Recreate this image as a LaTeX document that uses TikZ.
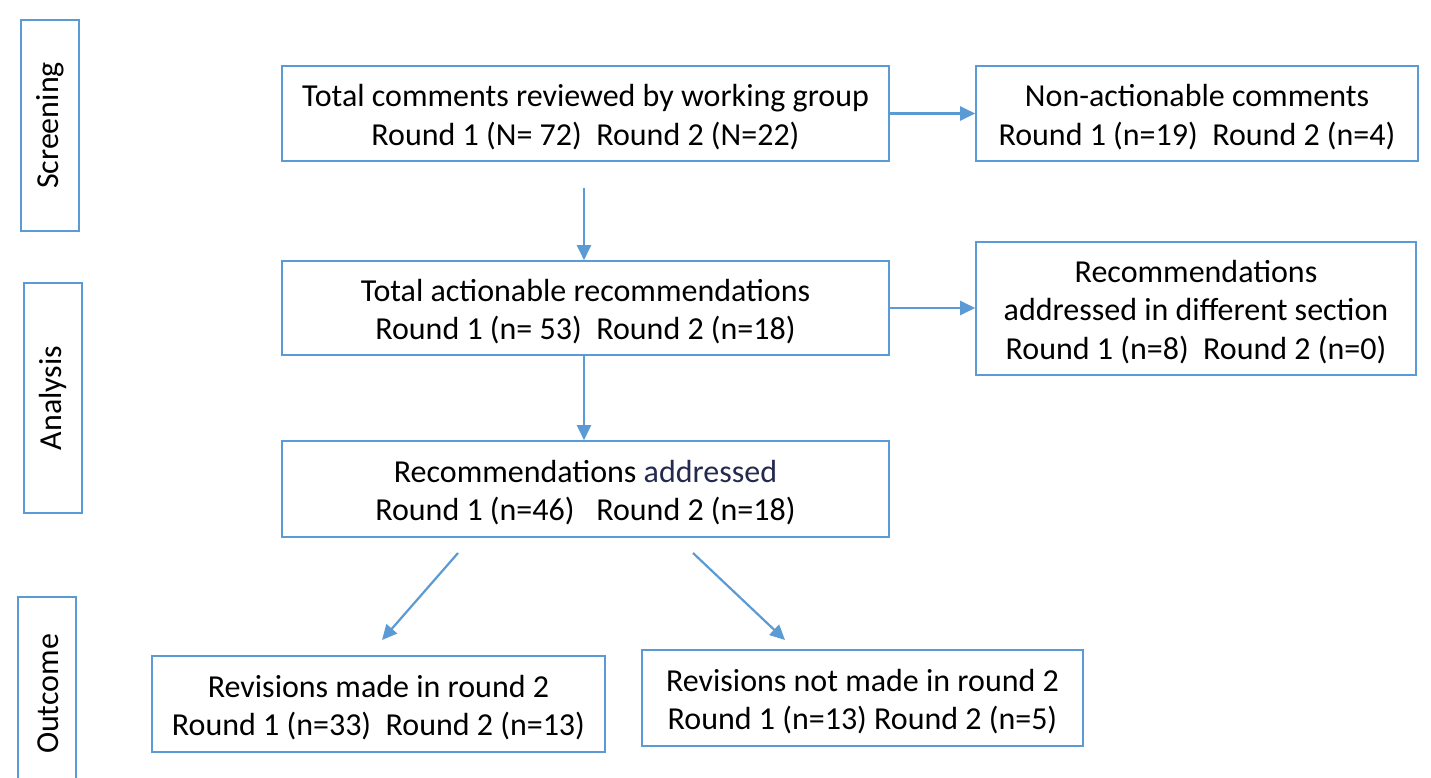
\documentclass[tikz,border=0pt]{standalone}
\usepackage{fontspec}
\setmainfont{Carlito}
\usetikzlibrary{arrows.meta}
\definecolor{boxblue}{RGB}{91,155,213}
\definecolor{navy}{RGB}{35,42,78}
\newcommand\mytopstrut{\rule{0pt}{29pt}}
\tikzset{
  box/.style={draw=boxblue, line width=1.6pt, fill=white, align=center, inner sep=0pt,
    font=\fontsize{32}{38.5}\selectfont},
  sidebox/.style={draw=boxblue, line width=1.6pt, inner sep=0pt, minimum width=58pt},
  sidetext/.style={rotate=90, font=\fontsize{32}{38}\selectfont},
  conn/.style={draw=boxblue, line width=2.2pt, -{Triangle[length=15pt,width=14pt]}}
}
\begin{document}
\begin{tikzpicture}[x=1pt,y=-1pt]
\useasboundingbox[fill=white] (0,0) rectangle (1431,778);

% stage boxes
\node[sidebox, minimum height=211pt] (scr) at (50,125.5) {};
\node[sidetext] (scrt) at (scr.center) {Screening};
\node[sidebox, minimum height=230pt] (ana) at (53,398) {};
\node[sidetext] (anat) at (ana.center) {Analysis};
\coordinate (outtl) at (18,597);
\coordinate (outtr) at (76,597);
\coordinate (outbl) at (18,778);
\coordinate (outbr) at (76,778);
\draw[boxblue, line width=1.6pt] (outbl) -- (outtl) -- (outtr) -- (outbr);
\node[sidetext] (outt) at (48,694) {Outcome};

% main boxes
\node[box, minimum width=607pt, minimum height=95pt] (a) at (585.5,113.5)
  {\mytopstrut Total comments reviewed by working group\\Round 1 (N= 72)\ \ Round 2 (N=22)};
\node[box, minimum width=442pt, minimum height=95pt] (b) at (1197,113.5)
  {\mytopstrut Non-actionable comments\\Round 1 (n=19)\ \ Round 2 (n=4)};
\node[box, minimum width=607pt, minimum height=94pt] (c) at (585.5,308)
  {\mytopstrut Total actionable recommendations\\Round 1 (n= 53)\ \ Round 2 (n=18)};
\node[box, minimum width=440pt, minimum height=133pt] (d) at (1196,308.5)
  {\mytopstrut Recommendations\\addressed in different section\\Round 1 (n=8)\ \ Round 2 (n=0)};
\node[box, minimum width=607pt, minimum height=96pt] (e) at (585.5,489)
  {\mytopstrut Recommendations \textcolor{navy}{addressed}\\Round 1 (n=46)\ \ \ Round 2 (n=18)};
\node[box, minimum width=453pt, minimum height=96pt] (f) at (378.5,704)
  {\mytopstrut Revisions made in round 2\\Round 1 (n=33)\ \ Round 2 (n=13)};
\node[box, minimum width=441pt, minimum height=96pt] (g) at (862.5,698)
  {\mytopstrut Revisions not made in round 2\\Round 1 (n=13) Round 2 (n=5)};

% connectors
\coordinate (v1) at (584,188);
\coordinate (d1s) at (458,553);
\coordinate (d1e) at (382,640);
\coordinate (d2s) at (693,553);
\coordinate (d2e) at (785,640);
\draw[conn] (a.east) -- (a.east -| b.west);
\draw[conn] (v1) -- (v1 |- c.north);
\draw[conn] (c.east) -- (c.east -| d.west);
\draw[conn] (c.south -| v1) -- (v1 |- e.north);
\draw[conn] (d1s) -- (d1e);
\draw[conn] (d2s) -- (d2e);
\end{tikzpicture}
\end{document}
